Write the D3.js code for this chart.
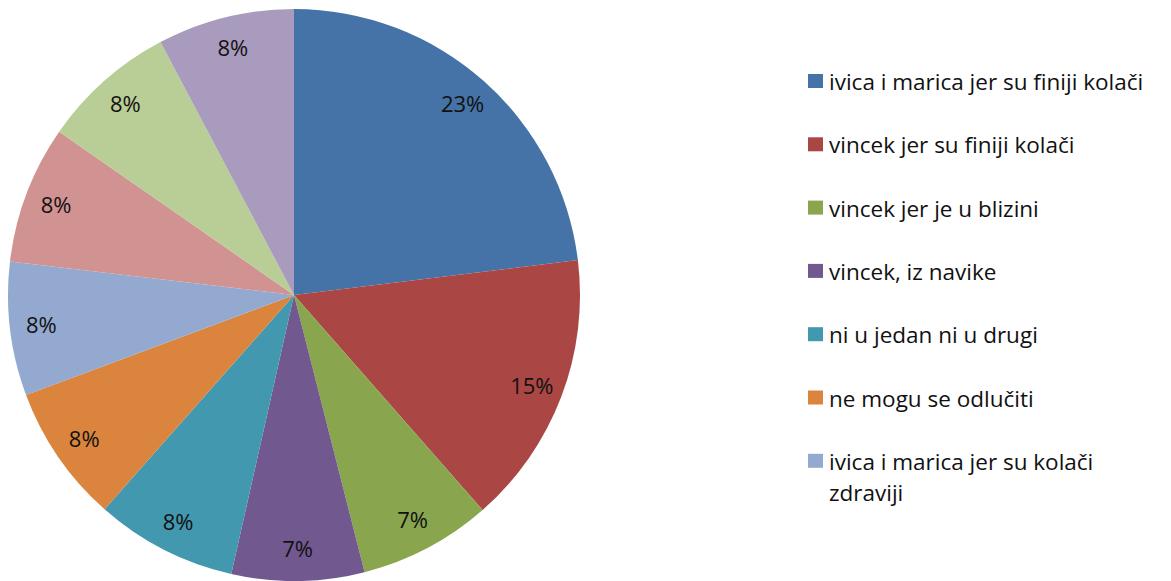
<!DOCTYPE html>
<html><head><meta charset="utf-8">
<script src="https://cdn.jsdelivr.net/npm/d3@7"></script>
<style>body{margin:0;background:#fff}svg{display:block}</style>
</head><body>
<svg id="c" width="1171" height="581"></svg>
<script>
const categories = [
  "ivica i marica jer su finiji kolači",
  "vincek jer su finiji kolači",
  "vincek jer je u blizini",
  "vincek, iz navike",
  "ni u jedan ni u drugi",
  "ne mogu se odlučiti",
  "ivica i marica jer su kolači zdraviji",
  "category 8",
  "category 9",
  "category 10"
];
const values = [23.05, 15.49, 7.49, 7.49, 8.0, 7.8, 7.55, 7.8, 7.6, 7.73];
const colors = ["#4572A7","#AA4643","#89A54E","#71588F","#4198AF","#DB843D","#93A9CF","#D19392","#B9CD96","#A99BBD"];
const legendShown = 7;
const legendLines = [
  ["ivica i marica jer su finiji kolači"],
  ["vincek jer su finiji kolači"],
  ["vincek jer je u blizini"],
  ["vincek, iz navike"],
  ["ni u jedan ni u drugi"],
  ["ne mogu se odlučiti"],
  ["ivica i marica jer su kolači", "zdraviji"]
];

const svg = d3.select("#c");
const font = "'Open Sans', sans-serif";
const cx = 294, cy = 295, r = 286;
const total = d3.sum(values);
const pie = d3.pie().sort(null).value(d => d)(values);
const arc = d3.arc().innerRadius(0).outerRadius(r);
const labelArc = d3.arc().innerRadius(r*0.89).outerRadius(r*0.89);
const g = svg.append("g").attr("transform", `translate(${cx},${cy})`);
g.selectAll("path").data(pie).join("path")
  .attr("d", arc).attr("fill", (d,i) => colors[i]);
g.selectAll("text").data(pie).join("text")
  .attr("transform", d => { const c = labelArc.centroid(d); return `translate(${c[0]},${c[1]})`; })
  .attr("text-anchor","middle").attr("dy","0.36em")
  .attr("font-family", font).attr("font-size", 22).attr("fill","#111")
  .text(d => Math.round(d.data/total*100) + "%");

const lg = svg.append("g");
const y0 = 81, step = 63.3;
legendLines.slice(0, legendShown).forEach((lines, i) => {
  const yc = y0 + i*step;
  lg.append("rect").attr("x", 808).attr("y", yc-7).attr("width", 15).attr("height", 14).attr("fill", colors[i]);
  lines.forEach((t, j) => {
    lg.append("text").attr("x", 829).attr("y", yc + 9 + j*31)
      .attr("font-family", font).attr("font-size", 22.5).attr("fill","#111").text(t);
  });
});
</script>
</body></html>
